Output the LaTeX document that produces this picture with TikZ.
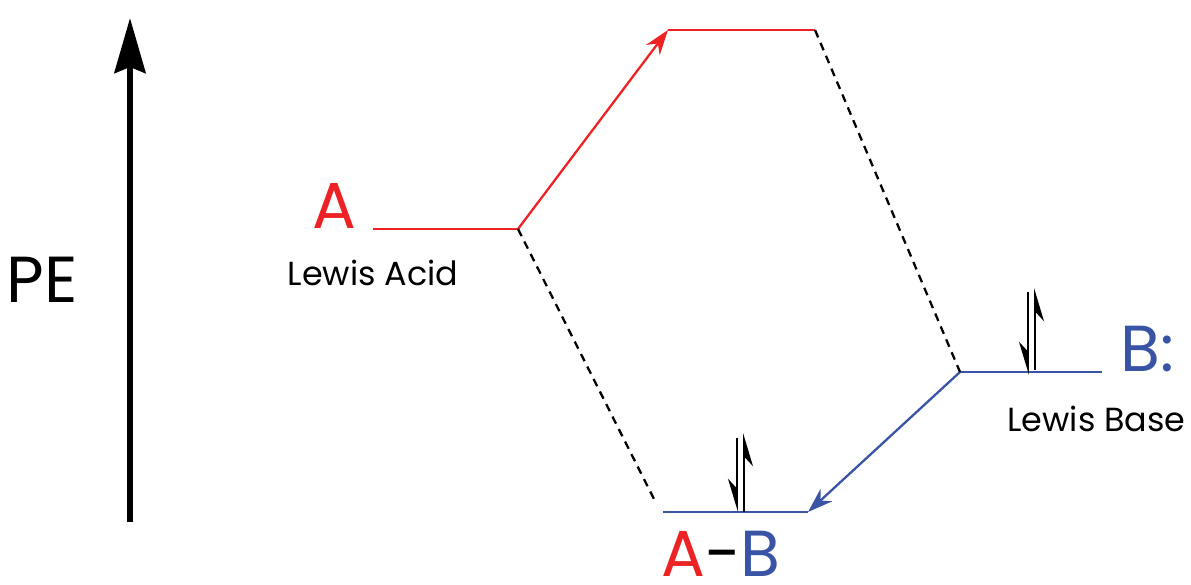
\documentclass[tikz,border=0pt]{standalone}
\usepackage{fontspec}
\setmainfont{Poppins}
\usetikzlibrary{arrows.meta}
\definecolor{acidred}{RGB}{237,34,36}
\definecolor{baseblue}{RGB}{58,84,165}
\tikzset{
  level/.style={line width=1.3pt},
  link/.style={line width=1.3pt, dash pattern=on 0.16cm off 0.12cm},
  electron/.style={line width=1.1pt, -{Stealth[harpoon, swap, length=0.6cm, width=0.36cm]}},
  big/.style={font=\fontsize{37}{40}\selectfont},
  small/.style={font=\fontsize{19}{22}\selectfont}
}
\begin{document}
\begin{tikzpicture}

    % 1. Khung hình
    \useasboundingbox (0,0) rectangle (23.82,11.68);

    % 2. Trục thế năng
    \coordinate (peBot) at (2.6,1.24);
    \coordinate (peTop) at (2.6,11.32);
    \draw[line width=3.4pt, -{Stealth[length=1.1cm, width=0.62cm, inset=0.12cm]}] (peBot) -- (peTop);
    \node[big] (pe) at (0.84,6.08) {PE};

    % 3. Các mức năng lượng
    \coordinate (acidL) at (7.46,7.10);
    \coordinate (acidR) at (10.36,7.10);
    \coordinate (topL) at (13.36,11.08);
    \coordinate (topR) at (16.30,11.08);
    \coordinate (baseL) at (19.20,4.24);
    \coordinate (baseR) at (22.04,4.24);
    \coordinate (abL) at (13.26,1.44);
    \coordinate (abR) at (16.16,1.44);

    \draw[level, acidred] (acidL) -- (acidR);
    \draw[level, acidred] (topL) -- (topR);
    \draw[level, baseblue] (baseL) -- (baseR);
    \draw[level, baseblue] (abL) -- (abR);

    % 4. Đường nối
    \draw[level, acidred, -{Stealth[length=0.5cm, width=0.34cm]}] (acidR) -- (topL);
    \draw[level, baseblue, -{Stealth[length=0.5cm, width=0.34cm]}] (baseL) -- (abR);
    \draw[link] (acidR) -- (13.10,1.66);
    \draw[link] (topR) -- (baseL);

    % 5. Nhãn
    \node[big, text=acidred, anchor=base east] (acid) at (7.26,7.12) {A};
    \node[small, anchor=base] (acidTxt) at (7.46,5.98) {Lewis Acid};
    \node[big, text=baseblue, anchor=base west] (base) at (22.28,4.26) {B:};
    \node[small, anchor=base east, inner sep=0pt] (baseTxt) at (23.72,3.06) {Lewis Base};
    \node[big, anchor=base, inner sep=0pt] (ab) at (14.42,0.16)
        {\textcolor{acidred}{A}-\textcolor{baseblue}{B}};

    % 6. Cặp electron
    \coordinate (e1d) at (14.74,2.92);
    \coordinate (e1u) at (14.88,1.44);
    \draw[electron] (e1d) -- (e1d |- abL);
    \draw[electron] (e1u) -- (14.88,3.02);
    \coordinate (e2d) at (20.56,5.84);
    \coordinate (e2u) at (20.70,4.28);
    \draw[electron] (e2d) -- (20.56,4.18);
    \draw[electron] (e2u) -- (20.70,5.92);

\end{tikzpicture}
\end{document}
